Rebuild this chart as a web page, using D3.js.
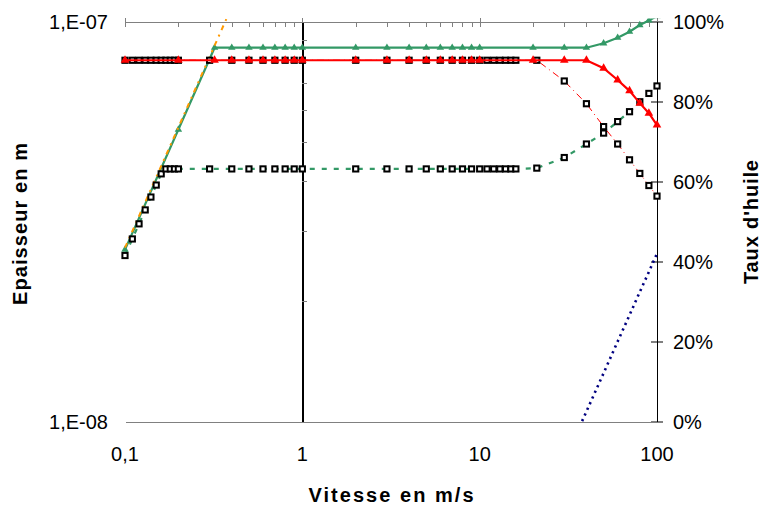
<!DOCTYPE html>
<html><head><meta charset="utf-8">
<script src="https://cdn.jsdelivr.net/npm/d3@7"></script>
<style>
html,body{margin:0;padding:0;background:#fff;}
svg{display:block;font-family:"Liberation Sans",Arial,Helvetica,sans-serif;}
</style></head><body>
<svg id="chart" width="768" height="506"></svg>
<script>
// ---------- DATA ----------
const xTickValues = [0.1, 1, 10, 100];
const xTickLabels = ["0,1", "1", "10", "100"];
const yTickValues = [1e-8, 1e-7];
const yTickLabels = ["1,E-08", "1,E-07"];
const y2TickValues = [0, 20, 40, 60, 80, 100];
const y2TickLabels = ["0%", "20%", "40%", "60%", "80%", "100%"];

// solid series (triangles)
const vSolid = [0.1, 0.2, 0.32, 0.4, 0.5, 0.6, 0.7, 0.8, 0.9, 1, 2, 3, 4, 5, 6, 7, 8, 9, 10, 20, 30, 40, 50, 60, 70, 80, 90, 100];
const hGreenSolid = [2.69e-8, 5.37e-8, 8.60e-8, 8.60e-8, 8.60e-8, 8.60e-8, 8.60e-8, 8.60e-8, 8.60e-8, 8.60e-8,
  8.60e-8, 8.60e-8, 8.60e-8, 8.60e-8, 8.60e-8, 8.60e-8, 8.60e-8, 8.60e-8, 8.60e-8, 8.60e-8, 8.60e-8, 8.60e-8,
  8.82e-8, 9.11e-8, 9.43e-8, 9.80e-8, 1.006e-7, 1.032e-7];
const hRedSolid = [8.0e-8, 8.0e-8, 8.0e-8, 8.0e-8, 8.0e-8, 8.0e-8, 8.0e-8, 8.0e-8, 8.0e-8, 8.0e-8,
  8.0e-8, 8.0e-8, 8.0e-8, 8.0e-8, 8.0e-8, 8.0e-8, 8.0e-8, 8.0e-8, 8.0e-8, 8.0e-8, 8.0e-8, 8.0e-8,
  7.64e-8, 7.14e-8, 6.71e-8, 6.25e-8, 5.90e-8, 5.51e-8];

// dashed series (squares)
const vDashed = [0.1, 0.11, 0.12, 0.13, 0.14, 0.15, 0.16, 0.17, 0.18, 0.19, 0.2,
  0.3, 0.4, 0.5, 0.6, 0.7, 0.8, 0.9, 1, 2, 3, 4, 5, 6, 7, 8, 9, 10,
  11, 12, 13, 14, 15, 16, 21, 30, 40, 50, 60, 70, 80, 90, 100];
const hRedDashed = [8.0e-8, 8.0e-8, 8.0e-8, 8.0e-8, 8.0e-8, 8.0e-8, 8.0e-8, 8.0e-8, 8.0e-8, 8.0e-8, 8.0e-8,
  8.0e-8, 8.0e-8, 8.0e-8, 8.0e-8, 8.0e-8, 8.0e-8, 8.0e-8, 8.0e-8, 8.0e-8, 8.0e-8, 8.0e-8, 8.0e-8, 8.0e-8, 8.0e-8, 8.0e-8, 8.0e-8, 8.0e-8,
  8.0e-8, 8.0e-8, 8.0e-8, 8.0e-8, 8.0e-8, 8.0e-8, 8.0e-8, 7.10e-8, 6.23e-8, 5.46e-8, 4.94e-8, 4.51e-8, 4.17e-8, 3.89e-8, 3.66e-8];
const hGreenDashed = [2.60e-8, 2.86e-8, 3.12e-8, 3.38e-8, 3.64e-8, 3.90e-8, 4.16e-8, 4.28e-8, 4.28e-8, 4.28e-8, 4.28e-8,
  4.28e-8, 4.28e-8, 4.28e-8, 4.28e-8, 4.28e-8, 4.28e-8, 4.28e-8, 4.28e-8, 4.28e-8, 4.28e-8, 4.28e-8, 4.28e-8, 4.28e-8, 4.28e-8, 4.28e-8, 4.28e-8, 4.28e-8,
  4.28e-8, 4.28e-8, 4.28e-8, 4.28e-8, 4.28e-8, 4.28e-8, 4.30e-8, 4.57e-8, 4.94e-8, 5.26e-8, 5.62e-8, 5.95e-8, 6.30e-8, 6.61e-8, 6.90e-8];

// orange reference line
const vOrange = [0.1, 0.2, 0.3, 0.4];
const hOrange = [2.72e-8, 5.44e-8, 8.16e-8, 1.088e-7];

// oil rate (secondary axis, %)
const vOil = [30, 40, 50, 60, 70, 80, 90, 100];
const pOil = [-9.8, 2.5, 12.1, 20.0, 26.6, 32.4, 37.4, 42.0];

// ---------- CHART ----------
const svg = d3.select("#chart");
const x = d3.scaleLog().domain([0.1, 100]).range([125, 657]);
const y = d3.scaleLog().domain([1e-8, 1e-7]).range([421.5, 21.5]);
const y2 = d3.scaleLinear().domain([0, 100]).range([421.5, 21.5]);

const minorX = [0.2,0.3,0.4,0.5,0.6,0.7,0.8,0.9,2,3,4,5,6,7,8,9,20,30,40,50,60,70,80,90];
const minorY = [2e-8,3e-8,4e-8,5e-8,6e-8,7e-8,8e-8,9e-8];

function styleAxis(g, color, width) {
  g.selectAll("path.domain").attr("stroke", color).attr("stroke-width", width);
  g.selectAll(".tick line").attr("stroke", color).attr("stroke-width", 1);
  g.selectAll(".tick text").remove();
  g.attr("shape-rendering", "crispEdges");
}

// bottom gray line (secondary x)
svg.append("g").attr("transform", `translate(0,${y2(0)})`)
  .call(d3.axisBottom(x).tickValues([]).tickSizeOuter(0))
  .call(g => styleAxis(g, "#808080", 1));

// top axis line with minor ticks
svg.append("g").attr("transform", `translate(0,${y(1e-7)})`)
  .call(d3.axisBottom(x).tickValues(minorX).tickSize(5).tickSizeOuter(0).tickFormat(""))
  .call(g => styleAxis(g, "#808080", 1));
// major crossing ticks
svg.append("g").attr("transform", `translate(0,${y(1e-7) - 4})`)
  .call(d3.axisBottom(x).tickValues(xTickValues).tickSize(9).tickFormat(""))
  .call(g => { styleAxis(g, "#808080", 1); g.select("path.domain").remove(); });

// vertical axis at x=1
svg.append("g").attr("transform", `translate(${x(1)},0)`)
  .call(d3.axisRight(y).tickValues(minorY).tickSize(5).tickSizeOuter(0).tickFormat(""))
  .call(g => { styleAxis(g, "#000", 1.4); g.selectAll(".tick line").attr("stroke", "#808080"); });
svg.append("g").attr("transform", `translate(${x(1) - 5},0)`)
  .call(d3.axisRight(y).tickValues(yTickValues).tickSize(10).tickFormat(""))
  .call(g => { styleAxis(g, "#808080", 1); g.select("path.domain").remove(); });

// right secondary axis
svg.append("g").attr("transform", `translate(${x(100) - 6},0)`)
  .call(d3.axisRight(y2).tickValues(y2TickValues).tickSize(12).tickFormat(""))
  .call(g => { styleAxis(g, "#808080", 1); g.select("path.domain").remove(); g.selectAll(".tick line").attr("stroke-width", 1.5); });
svg.append("g").attr("transform", `translate(${x(100)},0)`)
  .call(d3.axisRight(y2).tickValues([]).tickSizeOuter(0))
  .call(g => styleAxis(g, "#000", 1.4));

// tick labels
const lab = svg.append("g").attr("font-size", 20).attr("fill", "#000");
lab.selectAll(".xl").data(xTickValues).join("text")
  .attr("x", d => x(d)).attr("y", 461).attr("text-anchor", "middle")
  .text((d, i) => xTickLabels[i]);
lab.selectAll(".yl").data(yTickValues).join("text")
  .attr("x", 108).attr("y", d => y(d) + 7).attr("text-anchor", "end")
  .text((d, i) => yTickLabels[i]);
lab.selectAll(".y2l").data(y2TickValues).join("text")
  .attr("x", 673).attr("y", d => y2(d) + 7).attr("text-anchor", "start")
  .text((d, i) => y2TickLabels[i]);

// titles
svg.append("text").attr("x", 391).attr("y", 501.5).attr("text-anchor", "middle")
  .attr("font-size", 20).attr("font-weight", "bold")
  .attr("textLength", 165).attr("lengthAdjust", "spacing").text("Vitesse en m/s");
svg.append("text").attr("transform", "translate(27,224) rotate(-90)").attr("text-anchor", "middle")
  .attr("font-size", 20).attr("font-weight", "bold")
  .attr("textLength", 162).attr("lengthAdjust", "spacing").text("Epaisseur en m");
svg.append("text").attr("transform", "translate(758,222) rotate(-90)").attr("text-anchor", "middle")
  .attr("font-size", 20).attr("font-weight", "bold")
  .attr("textLength", 124).attr("lengthAdjust", "spacing").text("Taux d'huile");

// clip
svg.append("clipPath").attr("id", "plotclip").append("rect")
  .attr("x", 118).attr("y", 18.5).attr("width", 548).attr("height", 403.5);
const plot = svg.append("g").attr("clip-path", "url(#plotclip)");

function series(vs, vals, ys, o) {
  const pts = vs.map((v, i) => [x(v), ys(vals[i])]);
  const g = plot.append("g");
  g.append("path").attr("d", d3.line()(pts)).attr("fill", "none")
    .attr("stroke", o.color).attr("stroke-width", o.width)
    .attr("stroke-dasharray", o.dash || null);
  if (o.marker === "square") {
    g.selectAll("rect").data(pts).join("rect")
      .attr("x", d => d[0] - 2.6).attr("y", d => d[1] - 2.6)
      .attr("width", 5.2).attr("height", 5.2)
      .attr("fill", "#fff").attr("stroke", "#000").attr("stroke-width", 2);
  } else if (o.marker === "triangle") {
    const sym = d3.symbol().type(d3.symbolTriangle).size(o.size);
    g.selectAll("path.m").data(pts).join("path").attr("class", "m")
      .attr("d", sym).attr("transform", d => `translate(${d[0]},${d[1]})`)
      .attr("fill", o.color);
  }
}

series(vSolid, hGreenSolid, y, {color: "#339966", width: 2.2, marker: "triangle", size: 24});
series(vOrange, hOrange, y, {color: "#FF9900", width: 2, dash: "5,5,2,5"});
series(vDashed, hGreenDashed, y, {color: "#339966", width: 2.2, dash: "5,7", marker: "square"});
series(vDashed, hRedDashed, y, {color: "#FF0000", width: 1, dash: "7,4,1,4", marker: "square"});
series(vSolid, hRedSolid, y, {color: "#FF0000", width: 2.2, marker: "triangle", size: 32});
series(vOil, pOil, y2, {color: "#000080", width: 2.6, dash: "2.2,4"});
</script>
</body></html>
